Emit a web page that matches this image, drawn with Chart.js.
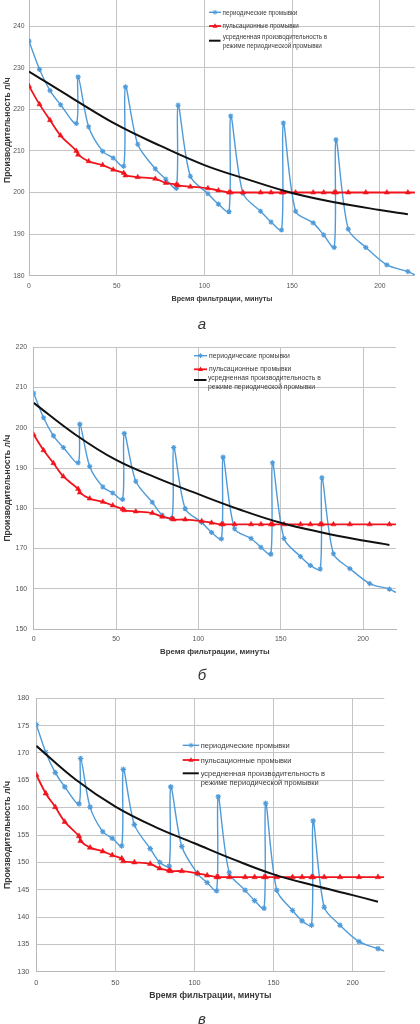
<!DOCTYPE html>
<html><head><meta charset="utf-8">
<script src="https://cdn.jsdelivr.net/npm/chart.js@4.4.1/dist/chart.umd.min.js"></script>
<style>
html,body{margin:0;padding:0;background:#fff;}
#page{position:relative;width:420px;height:1024px;overflow:hidden;background:#fff;font-family:"Liberation Sans",Arial,sans-serif;}
canvas{position:absolute;left:0;}
.leg{position:absolute;color:#3a3a3a;white-space:nowrap;}
.cap{position:absolute;font-style:italic;font-size:15px;color:#333;transform:translate(-50%,-50%);font-family:"Liberation Sans",Arial,sans-serif;}
#ov{position:absolute;left:0;top:0;pointer-events:none;}
</style></head><body><div id="page">
<canvas id="c1" width="420" height="330" style="top:-24px"></canvas>
<canvas id="c2" width="420" height="330" style="top:330px"></canvas>
<canvas id="c3" width="420" height="325" style="top:680px"></canvas>
<svg id="ov" width="420" height="1024"></svg>
<div class="cap" style="left:202px;top:323px">а</div>
<div class="cap" style="left:202px;top:674px">б</div>
<div class="cap" style="left:202px;top:1018px">в</div>
</div>
<script>
// ---------- data ----------
const SERIES_LABELS = ['периодические  промывки', 'пульсационные промывки', 'усредненная производительность в', 'режиме периодической промывки'];
const X_TITLE = 'Время фильтрации, минуты';
const Y_TITLE = 'Производительность л/ч';
const X_TICKS = [0, 50, 100, 150, 200];
const X_MIN = 0, X_MAX = 220;
const Y_TICKS_A = [180, 190, 200, 210, 220, 230, 240, 250];
const Y_TICKS_B = [150, 160, 170, 180, 190, 200, 210, 220];
const Y_TICKS_C = [130, 135, 140, 145, 150, 155, 160, 165, 170, 175, 180];

const TIMES = [0, 6, 12, 18, 27, 28, 34, 42, 48, 54, 55, 62, 72, 78, 84, 85, 92, 102, 108, 114, 115, 122, 132, 138, 144, 145, 152, 162, 168, 174, 175, 182, 192, 204, 216, 220];
const AVG_TIMES = [0, 25, 50, 75, 100, 125, 150, 175, 200, 216];

const periodicA = [236.4, 229.6, 224.5, 221.1, 216.6, 227.8, 215.8, 209.9, 208.3, 206.3, 225.4, 211.6, 205.7, 203.2, 201.0, 221.0, 203.9, 199.7, 197.2, 195.4, 218.4, 199.8, 195.5, 192.9, 191.0, 216.7, 195.5, 192.7, 189.8, 186.8, 212.7, 191.2, 186.8, 182.6, 181.0, 180.2];
const pulseA    = [225.6, 221.2, 217.4, 213.7, 210.0, 209.1, 207.5, 206.6, 205.5, 204.7, 204.1, 203.7, 203.3, 202.3, 201.9, 201.7, 201.4, 201.0, 200.5, 200.0, 200.0, 200.0, 200.0, 200.0, 200.0, 200.0, 200.0, 200.0, 200.0, 200.0, 200.0, 200.0, 200.0, 200.0, 200.0, 200.0];
const avgA      = [229.1, 222.6, 216.3, 211.2, 206.6, 203.1, 199.9, 197.6, 195.8, 194.8];

const periodicB = [208.6, 202.5, 198.0, 195.1, 191.3, 200.9, 190.4, 185.3, 183.8, 182.2, 198.6, 186.7, 181.5, 178.3, 177.5, 195.1, 179.9, 176.5, 174.0, 172.4, 192.7, 174.9, 172.5, 170.3, 168.6, 191.3, 172.5, 168.0, 165.8, 164.9, 187.6, 168.7, 165.0, 161.3, 159.9, 159.1];
const pulseB    = [198.3, 194.4, 191.2, 187.9, 184.8, 183.9, 182.4, 181.6, 180.7, 179.8, 179.5, 179.2, 178.8, 177.9, 177.4, 177.2, 177.2, 176.8, 176.4, 176.0, 176.0, 176.0, 176.0, 176.0, 176.0, 176.0, 176.0, 176.0, 176.0, 176.0, 176.0, 176.0, 176.0, 176.0, 176.0, 176.0];
const avgB      = [206.2, 198.4, 192.0, 187.5, 183.5, 179.7, 176.4, 174.0, 172.0, 170.9];

const periodicC = [175.2, 170.1, 166.4, 163.8, 160.7, 169.0, 160.1, 155.6, 154.4, 153.0, 167.0, 156.9, 152.5, 150.0, 149.3, 163.8, 152.9, 147.9, 146.3, 144.8, 162.0, 148.1, 144.9, 143.0, 141.6, 160.8, 144.9, 141.2, 139.3, 138.5, 157.6, 141.8, 138.5, 135.5, 134.2, 133.8];
const pulseC    = [166.0, 162.6, 160.1, 157.4, 154.8, 153.9, 152.7, 152.0, 151.3, 150.7, 150.2, 150.0, 149.7, 148.9, 148.5, 148.4, 148.4, 148.0, 147.6, 147.3, 147.3, 147.3, 147.3, 147.3, 147.3, 147.3, 147.3, 147.3, 147.3, 147.3, 147.3, 147.3, 147.3, 147.3, 147.3, 147.3];
const avgC      = [171.3, 165.1, 160.2, 156.5, 153.5, 150.5, 147.8, 145.8, 144.0, 142.8];

// ---------- style ----------
const BLUE = '#4f9bd9', RED = '#f0141c', BLACK = '#111111';
const GRID = '#c4c4c4', AXIS = '#b8b8b8', TICKC = '#555555', TITLEC = '#383838';
const FONT = '"Liberation Sans", Arial, sans-serif';

function build(id, cfg) {
  const last = TIMES.length - 1;
  const datasets = [
    { label: SERIES_LABELS[0], data: TIMES.map((t, i) => ({x: t, y: cfg.periodic[i]})),
      borderColor: BLUE, backgroundColor: BLUE, borderWidth: 1.4, tension: 0.3,
      pointStyle: 'star', pointRadius: c => c.dataIndex === last ? 0 : cfg.mr,
      pointBorderColor: BLUE, pointBorderWidth: 1.1, order: 3 },
    { label: SERIES_LABELS[1], data: TIMES.map((t, i) => ({x: t, y: cfg.pulse[i]})),
      borderColor: RED, backgroundColor: RED, borderWidth: 1.8, tension: 0.3,
      pointStyle: 'triangle', pointRadius: c => c.dataIndex === last ? 0 : cfg.mr + 0.4,
      pointBorderColor: RED, pointBackgroundColor: RED, pointBorderWidth: 0.5, order: 2 },
    { label: SERIES_LABELS[2], data: AVG_TIMES.map((t, i) => ({x: t, y: cfg.avg[i]})),
      borderColor: BLACK, borderWidth: 2, tension: 0.4, pointRadius: 0, order: 1 }
  ];
  new Chart(document.getElementById(id), {
    type: 'line',
    data: { datasets },
    options: {
      responsive: false, animation: false, events: [],
      layout: { padding: { top: cfg.padTop, right: cfg.padRight, left: 0, bottom: 0 } },
      plugins: { legend: { display: false }, tooltip: { enabled: false } },
      scales: {
        x: {
          type: 'linear', min: X_MIN, max: X_MAX,
          afterBuildTicks: s => { s.ticks = X_TICKS.map(v => ({value: v})); },
          afterFit: s => { s.height = cfg.xH; },
          grid: { color: GRID, lineWidth: 1, drawTicks: false },
          border: { color: AXIS },
          ticks: { font: { family: FONT, size: cfg.tickFs }, color: TICKC, padding: cfg.xPad, maxRotation: 0, autoSkip: false },
          title: { display: true, text: X_TITLE, color: TITLEC, font: { family: FONT, size: cfg.titleFs, weight: 'bold' }, padding: { top: 0, bottom: cfg.xTitlePad } }
        },
        y: {
          type: 'linear', min: cfg.yTicks[0], max: cfg.yTicks[cfg.yTicks.length - 1],
          afterBuildTicks: s => { s.ticks = cfg.yTicks.map(v => ({value: v})); },
          afterFit: s => { s.width = cfg.yW; },
          grid: { color: GRID, lineWidth: 1, drawTicks: false },
          border: { color: AXIS },
          ticks: { font: { family: FONT, size: cfg.tickFs }, color: TICKC, padding: cfg.yPad, autoSkip: false },
          title: { display: true, text: Y_TITLE, color: TITLEC, font: { family: FONT, size: cfg.yTitleFs, weight: 'bold' }, padding: { top: cfg.yTitlePad, bottom: 0 } }
        }
      }
    }
  });
}

build('c1', { periodic: periodicA, pulse: pulseA, avg: avgA, yTicks: Y_TICKS_A,
  padTop: 5.2, padRight: 2, yW: 29, xH: 30.3, tickFs: 6.8, titleFs: 7.2, yTitleFs: 8.5,
  xPad: 6.5, yPad: 4.5, xTitlePad: 2.8, yTitlePad: 2.9, mr: 2.6 });
build('c2', { periodic: periodicB, pulse: pulseB, avg: avgB, yTicks: Y_TICKS_B,
  padTop: 17.3, padRight: 24, yW: 33.7, xH: 31, tickFs: 7, titleFs: 7.8, yTitleFs: 8.6,
  xPad: 5.8, yPad: 6.5, xTitlePad: 3.3, yTitlePad: 2.6, mr: 2.6 });
build('c3', { periodic: periodicC, pulse: pulseC, avg: avgC, yTicks: Y_TICKS_C,
  padTop: 18.3, padRight: 35.7, yW: 36.3, xH: 33.3, tickFs: 7.3, titleFs: 8.7, yTitleFs: 8.7,
  xPad: 6.8, yPad: 7, xTitlePad: 4.6, yTitlePad: 2.8, mr: 2.8 });

// ---------- legends (HTML text + SVG samples) ----------
const ov = document.getElementById('ov');
const page = document.getElementById('page');
const NS = 'http://www.w3.org/2000/svg';
function svgEl(tag, attrs) { const e = document.createElementNS(NS, tag); for (const k in attrs) e.setAttribute(k, attrs[k]); ov.appendChild(e); return e; }
function star(cx, cy, r, col) {
  const d = r * 0.7071;
  svgEl('path', { d: `M${cx-r},${cy}H${cx+r}M${cx},${cy-r}V${cy+r}M${cx-d},${cy-d}L${cx+d},${cy+d}M${cx-d},${cy+d}L${cx+d},${cy-d}`, stroke: col, 'stroke-width': 1, fill: 'none' });
}
function tri(cx, cy, r, col) {
  svgEl('path', { d: `M${cx},${cy-r}L${cx+r*0.9},${cy+r*0.6}L${cx-r*0.9},${cy+r*0.6}Z`, fill: col });
}
function text(x, y, fs, html, lh) {
  const d = document.createElement('div');
  d.className = 'leg';
  d.style.left = x + 'px';
  d.style.fontSize = fs + 'px';
  d.style.lineHeight = lh + 'px';
  d.style.top = (y - lh / 2) + 'px';
  d.innerHTML = html;
  page.appendChild(d);
}
function legend(L) {
  svgEl('line', { x1: L.x0, x2: L.x1, y1: L.yb, y2: L.yb, stroke: BLUE, 'stroke-width': 1.4 });
  star((L.x0 + L.x1) / 2, L.yb, 2.4, BLUE);
  text(L.tx, L.yb, L.fs, SERIES_LABELS[0], L.fs * 1.2);
  svgEl('line', { x1: L.x0, x2: L.x1, y1: L.yr, y2: L.yr, stroke: RED, 'stroke-width': 1.8 });
  tri((L.x0 + L.x1) / 2, L.yr, 2.8, RED);
  text(L.tx, L.yr, L.fs, SERIES_LABELS[1], L.fs * 1.2);
  svgEl('line', { x1: L.x0, x2: L.x1 - 0.5, y1: L.yk, y2: L.yk, stroke: BLACK, 'stroke-width': 2 });
  text(L.tx2, L.yt1, L.fs, SERIES_LABELS[2] + '<br>' + SERIES_LABELS[3], L.gap);
}
legend({ x0: 209, x1: 221, tx: 222.5, tx2: 222.7, yb: 12.3, yr: 26, yk: 40.7, yt1: 36.3, gap: 9.4, fs: 6.3 });
legend({ x0: 194, x1: 207, tx: 209, tx2: 208, yb: 355.7, yr: 369.3, yk: 380, yt1: 378.7, gap: 8.6, fs: 6.8 });
legend({ x0: 182.7, x1: 199.3, tx: 200.7, tx2: 200.7, yb: 745.3, yr: 760, yk: 773.3, yt1: 773.3, gap: 9.2, fs: 7.5 });
</script>
</body></html>
